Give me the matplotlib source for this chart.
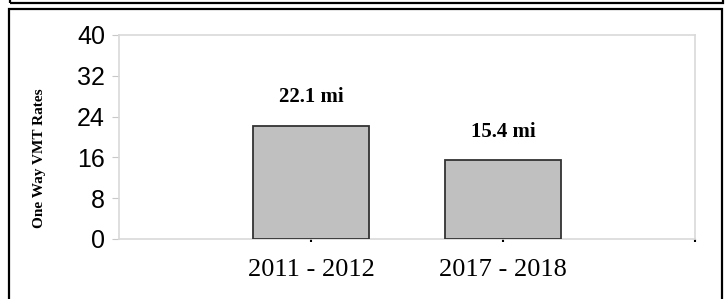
import matplotlib
matplotlib.use('Agg')
import matplotlib.pyplot as plt
from matplotlib.patches import Rectangle

# data
periods = ['2011 - 2012', '2017 - 2018']
vmt_rates = [22.1, 15.4]
bar_labels = ['22.1 mi', '15.4 mi']
y_ticks = [0, 8, 16, 24, 32, 40]

W, H = 725, 299
fig = plt.figure(figsize=(W / 100, H / 100), dpi=100)
fig.patch.set_facecolor('white')

# the two black frames around the chart
def px_box(x0, y0, x1, y1):
    # pixel coords, y from the top
    return Rectangle((x0 / W, 1 - y1 / H), (x1 - x0) / W, (y1 - y0) / H,
                     transform=fig.transFigure, fill=False, edgecolor='black',
                     linewidth=1.6, clip_on=False)

fig.patches.append(px_box(9.5, -20, 722.5, 2.5))
fig.patches.append(px_box(9, 8.5, 722, 320))

ax = fig.add_axes([119 / W, 1 - 239 / H, (695 - 119) / W, (239 - 35) / H])

x = list(range(len(periods)))
ax.bar(x, vmt_rates, width=0.6, color='#c0c0c0', edgecolor='#333333', linewidth=1.3, zorder=3)

for xi, v, lab in zip(x, vmt_rates, bar_labels):
    ax.text(xi, v + 3.7, lab, ha='center', va='bottom', fontsize=15,
            fontweight='bold', family='Liberation Serif')

ax.set_xlim(-1, 2)
ax.set_ylim(0, 40)
ax.set_yticks(y_ticks)
ax.set_yticklabels([str(t) for t in y_ticks], fontsize=18, family='Liberation Sans')
ax.set_xticks([0, 1, 2])
ax.set_xticklabels(periods + [''], fontsize=19, family='Liberation Serif')

for s in ax.spines.values():
    s.set_color('#d9d9d9')
    s.set_linewidth(1.2)

ax.tick_params(axis='y', length=5, color='#c8c8c8', pad=5)
ax.tick_params(axis='x', length=2.5, width=1.5, color='black', pad=12)

ax.set_ylabel('One Way VMT Rates', fontsize=11, fontweight='bold',
              family='Liberation Serif', labelpad=0)
ax.yaxis.set_label_coords((46 - 119) / (695 - 119), (239 - 158) / (239 - 35))

fig.savefig('out.png', dpi=100, facecolor='white')
